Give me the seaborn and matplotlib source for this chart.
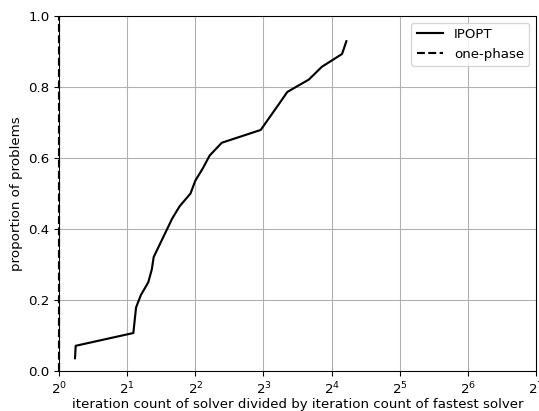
import matplotlib
matplotlib.use("Agg")
import matplotlib.pyplot as plt
import pandas as pd
import seaborn as sns

# performance profile data
ipopt_ratio = [1.177, 1.185, 2.13, 2.19, 2.30, 2.48, 2.57, 2.62, 3.16, 3.41, 3.81,
               4.00, 4.32, 4.63, 5.24, 7.78, 9.32, 10.2, 12.7, 14.5, 17.8, 18.6]
ipopt_prop = [0.036, 0.071, 0.107, 0.179, 0.214, 0.250, 0.286, 0.321, 0.429, 0.464, 0.500,
              0.536, 0.571, 0.607, 0.643, 0.679, 0.750, 0.786, 0.821, 0.857, 0.893, 0.929]
onephase_ratio = [1.0, 1.0]
onephase_prop = [0.0, 1.0]

DPI = 96

df = pd.concat([
    pd.DataFrame({"ratio": ipopt_ratio, "prop": ipopt_prop, "solver": "IPOPT"}),
    pd.DataFrame({"ratio": onephase_ratio, "prop": onephase_prop, "solver": "one-phase"}),
], ignore_index=True)

fig = plt.figure(figsize=(539 / DPI, 411 / DPI), dpi=DPI)
ax = fig.add_axes([59 / 539, 1 - 371 / 411, (536 - 59) / 539, (371 - 16) / 411])

sns.lineplot(
    data=df, x="ratio", y="prop", style="solver", units="solver", estimator=None,
    sort=False, color="black", linewidth=1.6,
    dashes={"IPOPT": "", "one-phase": (3.7, 1.6)}, ax=ax,
)
# the one-phase curve sits on the left spine, keep it visible
for line in ax.lines:
    line.set_clip_on(False)
    line.set_zorder(3)

ax.set_xscale("log", base=2)
ax.set_xlim(1, 128)
ax.set_ylim(0, 1)
ax.grid(True, color="#b0b0b0", linewidth=0.8)
ax.set_axisbelow(True)
ax.tick_params(labelsize=10)
ax.set_xlabel("iteration count of solver divided by iteration count of fastest solver",
              fontsize=10, labelpad=1)
ax.set_ylabel("proportion of problems", fontsize=10)
ax.legend(title=None, loc="upper right", fontsize=10)

fig.savefig("out.png", dpi=DPI)
plt.close()
